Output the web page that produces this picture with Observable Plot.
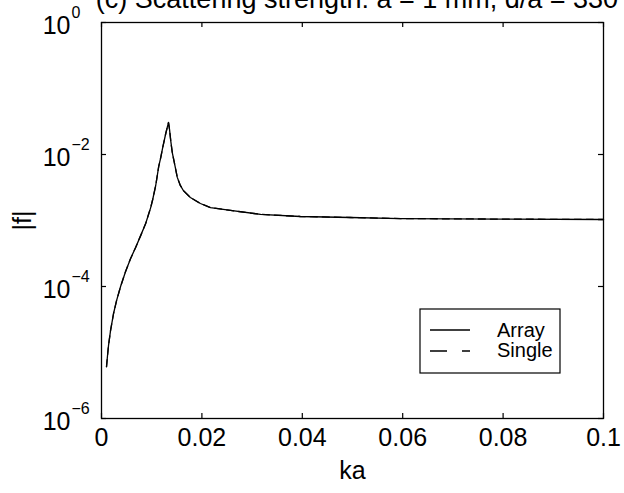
<!DOCTYPE html>
<html><head><meta charset="utf-8">
<script src="https://cdn.jsdelivr.net/npm/d3@7"></script>
<script src="https://cdn.jsdelivr.net/npm/@observablehq/plot@0.6"></script>
<style>
body{margin:0;background:#fff;}
#wrap{position:relative;width:624px;height:493px;overflow:hidden;background:#fff;}
#overlay{position:absolute;left:0;top:0;pointer-events:none;}
</style>
</head><body><div id="wrap"></div>
<script>
const FONT = "'Liberation Sans', Arial, Helvetica, sans-serif";
const titleText = "(c) Scattering strength: a = 1 mm, d/a = 330";
const xLabel = "ka";
const yLabel = "|f|";
const legendLabels = ["Array", "Single"];
const xTicks = [0, 0.02, 0.04, 0.06, 0.08, 0.1];
const xTickLabels = ["0", "0.02", "0.04", "0.06", "0.08", "0.1"];
const yTicks = [1e-6, 1e-4, 1e-2, 1];
const yExponents = ["\u22126", "\u22124", "\u22122", "0"];

const ka = [0.001, 0.0012, 0.0014, 0.0018, 0.0024, 0.003, 0.0038, 0.0048, 0.0058, 0.0068, 0.0078, 0.0088, 0.0098, 0.0102, 0.0108, 0.0114, 0.0118, 0.0122, 0.0128, 0.0131, 0.01335, 0.01355, 0.0138, 0.0141, 0.0145, 0.0151, 0.0157, 0.0163, 0.0177, 0.0197, 0.0217, 0.0257, 0.0317, 0.0396, 0.0496, 0.0596, 0.0795, 0.1];
const arrayF = [6.1e-6, 9.0e-6, 1.28e-5, 2.15e-5, 3.9e-5, 6.1e-5, 1.0e-4, 1.69e-4, 2.66e-4, 3.9e-4, 5.9e-4, 9.0e-4, 1.57e-3, 2.08e-3, 3.39e-3, 6.6e-3, 9.0e-3, 1.28e-2, 2.08e-2, 2.57e-2, 3.05e-2, 2.4e-2, 1.6e-2, 1.07e-2, 7.6e-3, 4.5e-3, 3.4e-3, 2.85e-3, 2.23e-3, 1.81e-3, 1.57e-3, 1.42e-3, 1.24e-3, 1.15e-3, 1.11e-3, 1.07e-3, 1.05e-3, 1.035e-3];
const singleF = [6.1e-6, 9.0e-6, 1.28e-5, 2.15e-5, 3.9e-5, 6.1e-5, 1.0e-4, 1.69e-4, 2.66e-4, 3.9e-4, 5.9e-4, 9.0e-4, 1.57e-3, 2.08e-3, 3.39e-3, 6.6e-3, 9.0e-3, 1.28e-2, 2.08e-2, 2.57e-2, 3.05e-2, 2.4e-2, 1.6e-2, 1.07e-2, 7.6e-3, 4.5e-3, 3.4e-3, 2.85e-3, 2.23e-3, 1.81e-3, 1.57e-3, 1.42e-3, 1.24e-3, 1.15e-3, 1.11e-3, 1.07e-3, 1.05e-3, 1.035e-3];

const W = 624, H = 493, mL = 101, mR = 21, mT = 22, mB = 75;
const plotW = W - mL - mR, plotH = H - mT - mB;

const arrayData = ka.map((k, i) => ({ka: k, f: arrayF[i]}));
const singleData = ka.map((k, i) => ({ka: k, f: singleF[i]}));

const chart = Plot.plot({
  width: W, height: H,
  marginLeft: mL, marginRight: mR, marginTop: mT, marginBottom: mB,
  style: {fontFamily: FONT, background: "white", color: "black"},
  x: {domain: [0, 0.1]},
  y: {type: "log", domain: [1e-6, 1]},
  marks: [
    Plot.line(arrayData, {x: "ka", y: "f", stroke: "black", strokeWidth: 1.3}),
    Plot.line(singleData, {x: "ka", y: "f", stroke: "black", strokeWidth: 1.3, strokeDasharray: "7,5"}),
    Plot.tickX(xTicks, {x: d => d, insetTop: plotH - 5, stroke: "black", strokeWidth: 1.2}),
    Plot.tickX(xTicks, {x: d => d, insetBottom: plotH - 5, stroke: "black", strokeWidth: 1.2}),
    Plot.tickY(yTicks, {y: d => d, insetRight: plotW - 5, stroke: "black", strokeWidth: 1.2}),
    Plot.tickY(yTicks, {y: d => d, insetLeft: plotW - 5, stroke: "black", strokeWidth: 1.2}),
    Plot.frame({stroke: "black", strokeWidth: 1.3}),
    Plot.axisX(xTicks, {anchor: "bottom", tickSize: 0, tickPadding: 10, fontSize: 25,
      tickFormat: d => xTickLabels[xTicks.indexOf(d)],
      label: xLabel, labelAnchor: "center", labelOffset: 60, labelArrow: "none"}),
    Plot.axisY(yTicks, {anchor: "left", tickSize: 0, tickPadding: 31, fontSize: 25, dy: 3,
      tickFormat: () => "10",
      label: yLabel, labelAnchor: "center", labelOffset: 88, labelArrow: "none"}),
    Plot.axisY(yTicks, {anchor: "left", tickSize: 0, tickPadding: 30, fontSize: 16, dy: -10,
      textAnchor: "start",
      tickFormat: d => yExponents[yTicks.indexOf(d)], label: null})
  ]
});

const wrap = document.getElementById("wrap");
wrap.appendChild(chart);

// overlay: title (clipped at the top edge, as in the reference) and legend box
const ov = d3.select(wrap).append("svg").attr("id", "overlay")
  .attr("width", W).attr("height", H).attr("font-family", FONT);
ov.append("text").attr("x", 357).attr("y", 8).attr("text-anchor", "middle")
  .attr("font-size", 27).attr("fill", "black").text(titleText);
const lg = ov.append("g");
lg.append("rect").attr("x", 420).attr("y", 309).attr("width", 140).attr("height", 64)
  .attr("fill", "white").attr("stroke", "black").attr("stroke-width", 1.2);
lg.append("line").attr("x1", 430).attr("x2", 470).attr("y1", 330).attr("y2", 330)
  .attr("stroke", "black").attr("stroke-width", 1.3);
lg.append("line").attr("x1", 430).attr("x2", 470).attr("y1", 351).attr("y2", 351)
  .attr("stroke", "black").attr("stroke-width", 1.3).attr("stroke-dasharray", "17,15");
lg.append("text").attr("x", 497).attr("y", 337).attr("font-size", 20).text(legendLabels[0]);
lg.append("text").attr("x", 497).attr("y", 357).attr("font-size", 20).text(legendLabels[1]);
</script>
</body></html>
